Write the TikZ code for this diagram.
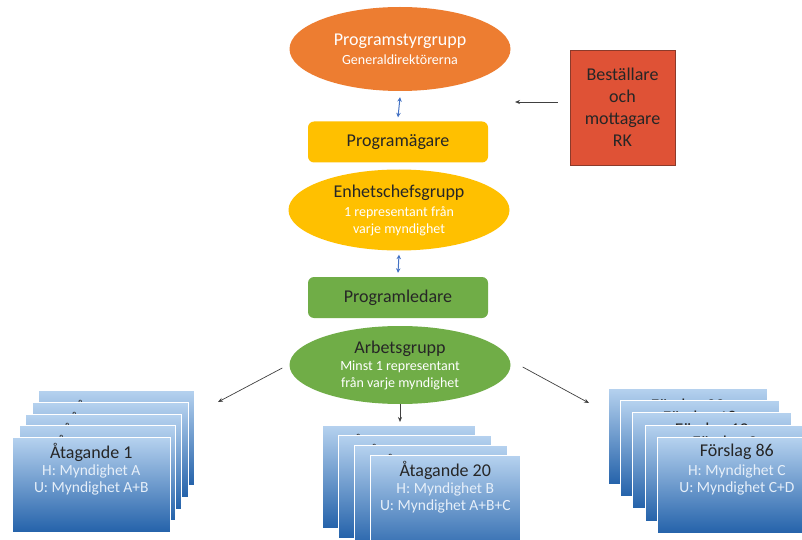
\documentclass[tikz,border=0pt]{standalone}
\usepackage{fontspec}
\setmainfont{Carlito}
\usetikzlibrary{shapes.geometric,arrows.meta}
\definecolor{orangeA}{HTML}{ED7D31}
\definecolor{goldA}{HTML}{FFC000}
\definecolor{greenA}{HTML}{70AD47}
\definecolor{redA}{HTML}{DF5236}
\definecolor{redB}{HTML}{8C3A2A}
\definecolor{blueA}{HTML}{4472C4}
\definecolor{cardtop}{HTML}{B6D2EF}
\definecolor{cardbot}{HTML}{2462AA}
\definecolor{cardtxt}{HTML}{E6EFF9}
\definecolor{darktxt}{HTML}{262626}
\definecolor{arrowgray}{HTML}{404040}
\newcommand\fsBig{\fontsize{18}{20}\selectfont}
\newcommand\fsSmall{\fontsize{14}{17}\selectfont}
\newcommand\fsLine{\fontsize{15.5}{17}\selectfont}
\tikzset{
  ellbox/.style={ellipse, inner sep=0pt, minimum width=221pt, align=center, font=\fsSmall},
  rbox/.style={rectangle, rounded corners=6pt, inner sep=0pt, minimum width=180pt, minimum height=41pt, text=darktxt, font=\fsBig},
  card/.style={rectangle, anchor=north west, inner sep=0pt, top color=cardtop, bottom color=cardbot, draw=white, line width=0.6pt},
  cardtitle/.style={inner sep=0pt, text=darktxt, font=\fsBig},
  cardline/.style={inner sep=0pt, text=cardtxt, font=\fsLine},
  dblarrow/.style={{Stealth[length=4.5pt,width=4.5pt]}-{Stealth[length=4.5pt,width=4.5pt]}, blueA, line width=1pt},
  grayarrow/.style={-{Stealth[length=5pt,width=4pt]}, arrowgray, line width=0.7pt}
}
% name, x, y, width, height, title, title offset
\newcommand\backcard[7]{%
  \node[card, minimum width=#4pt, minimum height=#5pt] (#1) at (#2,#3) {};
  \node[cardtitle] (#1t) at ([yshift=-#7pt]#1.north) {#6};
}
% name, x, y, width, height, title, H line, U line
\newcommand\frontcard[8]{%
  \node[card, minimum width=#4pt, minimum height=#5pt] (#1) at (#2,#3) {};
  \node[cardtitle] (#1t) at ([yshift=-15pt]#1.north) {#6};
  \node[cardline] (#1h) at ([yshift=-34pt]#1.north) {#7};
  \node[cardline] (#1u) at ([yshift=-51pt]#1.north) {#8};
}
\begin{document}
\begin{tikzpicture}[x=1pt, y=-1pt]
\useasboundingbox (0,0) rectangle (802,540);
\clip (0,0) rectangle (802,540);
\fill[white] (0,0) rectangle (802,540);

% top hierarchy
\node[ellbox, fill=orangeA, minimum height=84pt, text=white] (psg) at (400,49)
  {{\fsBig Programstyrgrupp}\\[2pt]Generaldirektörerna};
\node[rbox, fill=goldA] (pa) at (398,142) {Programägare};
\node[ellbox, fill=goldA, minimum height=81pt, text=white] (ecg) at (399,210)
  {{\fsBig\color{darktxt}Enhetschefsgrupp}\\[2pt]1 representant från\\varje myndighet};
\node[rbox, fill=greenA] (pl) at (398,297.5) {Programledare};
\node[ellbox, fill=greenA, minimum height=78pt, text=white] (ag) at (400,365)
  {{\fsBig\color{darktxt}Arbetsgrupp}\\[0pt]Minst 1 representant\\från varje myndighet};

\node[rectangle, fill=redA, draw=redB, line width=0.6pt, minimum width=105pt, minimum height=115pt,
  inner sep=0pt, align=center, text=black!85, font=\fontsize{18}{22}\selectfont] (rk) at (622.5,107.5)
  {Beställare\\och\\mottagare\\RK};

% double arrows
\draw[dblarrow] ([yshift=-6pt]psg.south) -- ([yshift=4pt]pa.north);
\draw[dblarrow] ([yshift=-4pt]ecg.south) -- ([yshift=4pt]pl.north);

% arrow from RK
\coordinate (rkend) at (515,102);
\draw[grayarrow] ([shift={(-12pt,5.5pt)}]rk.west) -- (rkend);

% left stack
\backcard{L5}{38}{390}{156}{95}{Åtagande 5}{19}
\backcard{L4}{32}{402}{156}{95}{Åtagande 4}{19}
\backcard{L3}{25}{414}{156}{95}{Åtagande 3}{18}
\backcard{L2}{19}{425}{156}{95}{Åtagande 2}{19}
\frontcard{L1}{12}{437}{158}{95}{Åtagande 1}{H: Myndighet A}{U: Myndighet A+B}

% centre stack
\backcard{C4}{322}{425}{153}{103}{Åtagande 23}{18}
\backcard{C3}{338}{435}{153}{103}{Åtagande 22}{18}
\backcard{C2}{354}{445}{153}{103}{Åtagande 21}{18}
\frontcard{C1}{370}{455}{150}{103}{Åtagande 20}{H: Myndighet B}{U: Myndighet A+B+C}

% right stack
\backcard{R5}{608}{388}{159}{96}{Förslag 22}{19}
\backcard{R4}{620}{400}{159}{96}{Förslag 18}{19}
\backcard{R3}{632}{412}{159}{96}{Förslag 12}{19}
\backcard{R2}{645}{425}{159}{96}{Förslag 3}{19}
\frontcard{R1}{657}{437}{159}{96}{Förslag 86}{H: Myndighet C}{U: Myndighet C+D}

% arrows from Arbetsgrupp
\coordinate (lend) at (218,402);
\coordinate (rend) at (589,403);
\draw[grayarrow] ([shift={(-7pt,-3pt)}]ag.west) -- (lend);
\draw[grayarrow] (ag.south) -- ([yshift=3pt]C4.north -| ag.south);
\draw[grayarrow] ([shift={(12pt,-2pt)}]ag.east) -- (rend);
\end{tikzpicture}
\end{document}
